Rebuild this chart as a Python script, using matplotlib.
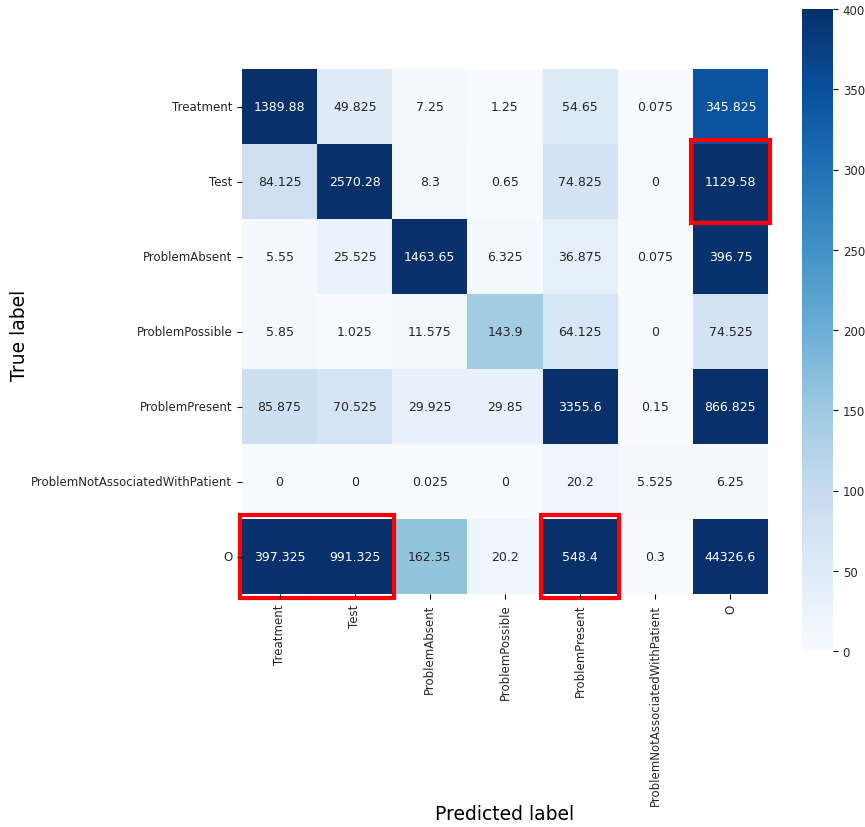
import matplotlib
matplotlib.use('Agg')
import matplotlib.pyplot as plt
import matplotlib.patches as patches
import numpy as np
import seaborn as sns

labels = ['Treatment', 'Test', 'ProblemAbsent', 'ProblemPossible',
          'ProblemPresent', 'ProblemNotAssociatedWithPatient', 'O']

# rows = true label, cols = predicted label
row_treatment = [1389.88, 49.825, 7.25, 1.25, 54.65, 0.075, 345.825]
row_test = [84.125, 2570.28, 8.3, 0.65, 74.825, 0, 1129.58]
row_absent = [5.55, 25.525, 1463.65, 6.325, 36.875, 0.075, 396.75]
row_possible = [5.85, 1.025, 11.575, 143.9, 64.125, 0, 74.525]
row_present = [85.875, 70.525, 29.925, 29.85, 3355.6, 0.15, 866.825]
row_notassoc = [0, 0, 0.025, 0, 20.2, 5.525, 6.25]
row_o = [397.325, 991.325, 162.35, 20.2, 548.4, 0.3, 44326.6]

# highlighted cells: (col, row, ncols)
highlights = [(6, 1, 1), (0, 6, 2), (4, 6, 1)]

cm = np.array([row_treatment, row_test, row_absent, row_possible,
               row_present, row_notassoc, row_o])

fig = plt.figure(figsize=(8.65, 8.28), dpi=100)
ax = fig.add_axes([242/865, 1 - 595/828, 526/865, 525/828])
cax = fig.add_axes([802/865, 1 - 652/828, 31/865, 642/828])

sns.heatmap(cm, annot=True, fmt='g', cmap='Blues', vmin=0, vmax=400,
            xticklabels=labels, yticklabels=labels, ax=ax, cbar_ax=cax,
            annot_kws={'fontsize': 9})
ax.set_aspect('auto')
ax.set_xticklabels(labels, rotation=90, fontsize=8.5, color='#262626')
ax.set_yticklabels(labels, rotation=0, fontsize=8.5, color='#262626')
ax.set_xlabel('Predicted label', fontsize=13.5)
ax.set_ylabel('True label', fontsize=13.5)
ax.xaxis.set_label_coords(0.5, -0.40)
ax.yaxis.set_label_coords(-0.405, 0.495)
cax.tick_params(labelsize=8.5, labelcolor='#262626')

for col, row, n in highlights:
    rect = patches.Rectangle((col - 0.02, row - 0.05), n + 0.04, 1.1,
                             fill=False, edgecolor='red', linewidth=3,
                             clip_on=False)
    ax.add_patch(rect)

fig.savefig('out.png', dpi=100)
